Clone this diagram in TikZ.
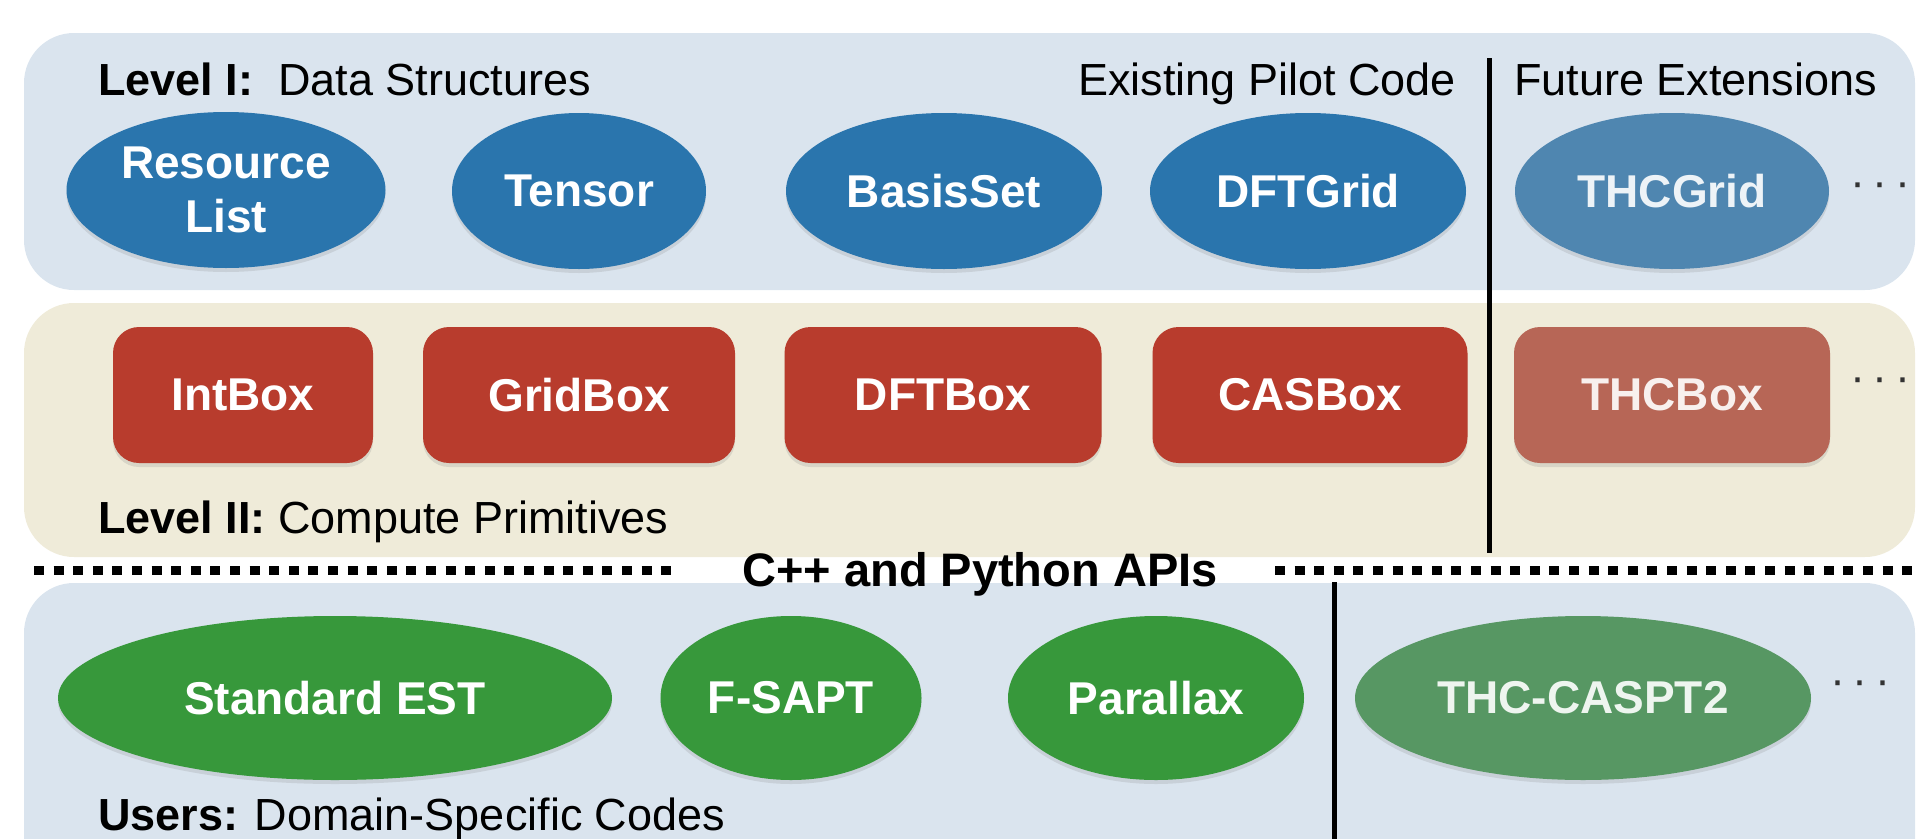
\documentclass[tikz,border=0pt]{standalone}
\usepackage{fontspec}
\setmainfont{Liberation Sans}
\usetikzlibrary{shapes.geometric,shadows}

\definecolor{bandblue}{HTML}{DAE4EE}
\definecolor{bandsand}{HTML}{EFEBD9}
\definecolor{structblue}{HTML}{2A75AD}
\definecolor{structfade}{HTML}{4F86B0}
\definecolor{primred}{HTML}{B83C2D}
\definecolor{primfade}{HTML}{B76656}
\definecolor{codegreen}{HTML}{37983B}
\definecolor{codefade}{HTML}{579763}

\begin{document}
\begin{tikzpicture}[x=1pt, y=-1pt,
    band/.style={rounded corners=50pt},
    lbl/.style={anchor=base west, inner sep=0pt, font={\fontsize{45}{54}\selectfont}},
    soft/.style={drop shadow={shadow xshift=0pt, shadow yshift=-4pt, opacity=0.2}},
    ds/.style={ellipse, soft, fill=structblue, text=white, inner sep=0pt, minimum height=156pt,
        align=center, font={\fontsize{46}{54}\selectfont\bfseries}},
    prim/.style={rectangle, soft, rounded corners=26pt, fill=primred, text=white, minimum height=136pt,
        font={\fontsize{46}{54}\selectfont\bfseries}},
    usr/.style={ellipse, soft, fill=codegreen, text=white, inner sep=0pt, minimum height=164pt,
        font={\fontsize{46}{54}\selectfont\bfseries}},
    more/.style={inner sep=0pt, text=black!80, font={\fontsize{45}{54}\selectfont}},
    sep/.style={line width=5pt},
    api/.style={line width=9pt, dash pattern=on 10pt off 9.6pt}]
    \useasboundingbox (0,0) rectangle (1919,838);

    % Background bands
    \fill[bandblue, band] (24,33) rectangle (1915,290);
    \fill[bandsand, band] (24,303) rectangle (1915,557);
    \fill[bandblue, band] (24,583) rectangle (1915,900);

    % Level I
    \node[lbl] (lvl1) at (98,95) {\textbf{Level I:}\ \ Data Structures};
    \node[lbl, anchor=base east] (pilot) at (1456,95) {Existing Pilot Code};
    \node[lbl] (future) at (1514,95) {Future Extensions};
    \node[ds, minimum width=319pt] (rlist) at (226,190) {Resource\\List};
    \node[ds, minimum width=254pt] (tensor) at (579,191) {Tensor};
    \node[ds, minimum width=316pt] (basis) at (944,191) {BasisSet};
    \node[ds, minimum width=316pt] (dftgrid) at (1308,191) {DFTGrid};
    \node[ds, fill=structfade, text=white!90!structfade, minimum width=314pt] (thcgrid) at (1672,191) {THCGrid};
    \node[more] (dots1) at (1880,190) {·\hspace{7.5pt}·\hspace{7.5pt}·};

    % Level II
    \node[prim, minimum width=260pt] (intbox) at (243,395) {IntBox};
    \node[prim, minimum width=312pt] (gridbox) at (579,395) {GridBox};
    \node[prim, minimum width=317pt] (dftbox) at (943,395) {DFTBox};
    \node[prim, minimum width=315pt] (casbox) at (1310,395) {CASBox};
    \node[prim, fill=primfade, text=white!90!primfade, minimum width=316pt] (thcbox) at (1672,395) {THCBox};
    \node[more] (dots2) at (1880,385) {·\hspace{7.5pt}·\hspace{7.5pt}·};
    \node[lbl] (lvl2) at (98,533) {\textbf{Level II:} Compute Primitives};

    % API divide
    \node[lbl, anchor=base, font={\fontsize{47}{56}\selectfont\bfseries}] (apis) at (980,586) {C++ and Python APIs};
    \draw[api] (34,570) -- (680,570);
    \draw[api] (1275,570) -- (1925,570);

    % Users
    \node[usr, minimum width=554pt] (est) at (335,698) {Standard EST};
    \node[usr, minimum width=261pt] (fsapt) at (791,698) {F-SAPT};
    \node[usr, minimum width=296pt] (parallax) at (1156,698) {Parallax};
    \node[usr, fill=codefade, text=white!90!codefade, minimum width=456pt] (thccas) at (1583,698) {THC-CASPT2};
    \node[more] (dots3) at (1860,688) {·\hspace{7.5pt}·\hspace{7.5pt}·};
    \node[lbl] (users) at (98,830) {\textbf{Users:} Domain-Specific Codes};

    % existing vs future
    \draw[sep] (1489,58) -- (1489,553);
    \draw[sep] (1334,582) -- (1334,840);
\end{tikzpicture}
\end{document}
